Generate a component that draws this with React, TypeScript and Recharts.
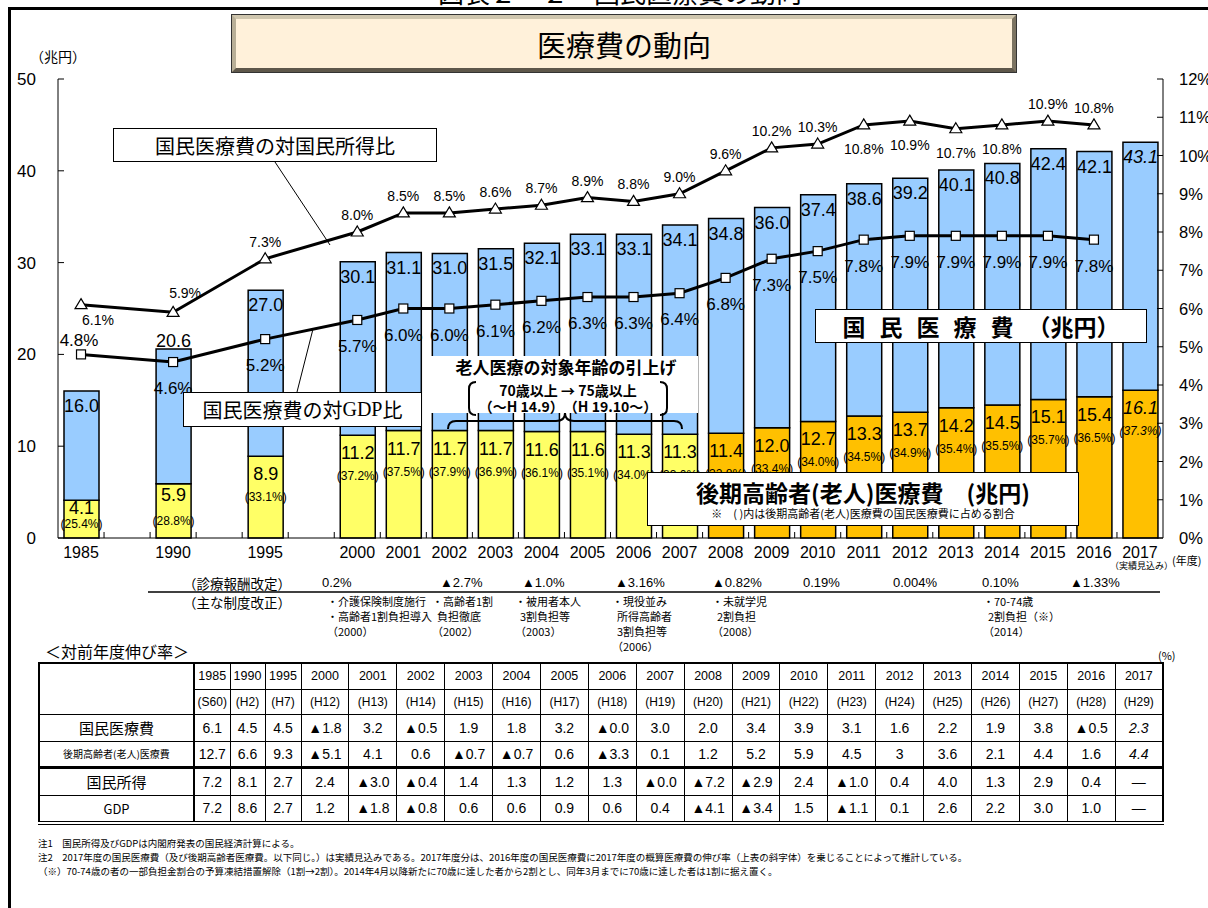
import React from "react";
import { ComposedChart, Bar, Line, XAxis, YAxis, Cell, LabelList } from "recharts";

const years = ["1985", "1990", "1995", "2000", "2001", "2002", "2003", "2004", "2005", "2006", "2007", "2008", "2009", "2010", "2011", "2012", "2013", "2014", "2015", "2016", "2017"];
const totalCost = [16.0, 20.6, 27.0, 30.1, 31.1, 31.0, 31.5, 32.1, 33.1, 33.1, 34.1, 34.8, 36.0, 37.4, 38.6, 39.2, 40.1, 40.8, 42.4, 42.1, 43.1];
const elderlyCost = [4.1, 5.9, 8.9, 11.2, 11.7, 11.7, 11.7, 11.6, 11.6, 11.3, 11.3, 11.4, 12.0, 12.7, 13.3, 13.7, 14.2, 14.5, 15.1, 15.4, 16.1];
const elderlyShare = [25.4, 28.8, 33.1, 37.2, 37.5, 37.9, 36.9, 36.1, 35.1, 34.0, 33.0, 32.8, 33.4, 34.0, 34.5, 34.9, 35.4, 35.5, 35.7, 36.5, 37.3];
const ratioIncome = [6.1, 5.9, 7.3, 8.0, 8.5, 8.5, 8.6, 8.7, 8.9, 8.8, 9.0, 9.6, 10.2, 10.3, 10.8, 10.9, 10.7, 10.8, 10.9, 10.8, null];
const ratioGdp = [4.8, 4.6, 5.2, 5.7, 6.0, 6.0, 6.1, 6.2, 6.3, 6.3, 6.4, 6.8, 7.3, 7.5, 7.8, 7.9, 7.9, 7.9, 7.9, 7.8, null];
const leftTicks = [0, 10, 20, 30, 40, 50];
const rightTicks = [0, 1, 2, 3, 4, 5, 6, 7, 8, 9, 10, 11, 12];
const gapAfter = ["1985", "1990", "1995"];

// 診療報酬改定 / 主な制度改正
const feeRevisions = ["0.2%", "▲2.7%", "▲1.0%", "▲3.16%", "▲0.82%", "0.19%", "0.004%", "0.10%", "▲1.33%"];
const feeRevisionX = [322, 440, 522, 615, 712, 803, 893, 982, 1070];
const reforms = [
  ["・介護保険制度施行", "・高齢者1割負担導入", "（2000）"],
  ["・高齢者1割", "  負担徹底", "（2002）"],
  ["・被用者本人", "  3割負担等", "（2003）"],
  ["・現役並み", "  所得高齢者", "  3割負担等", "（2006）"],
  ["・未就学児", "  2割負担", "（2008）"],
  ["・70-74歳", "  2割負担（※）", "（2014）"],
];
const reformX = [327, 432, 515, 612, 712, 983];

// 対前年度伸び率
const eras = ["(S60)", "(H2)", "(H7)", "(H12)", "(H13)", "(H14)", "(H15)", "(H16)", "(H17)", "(H18)", "(H19)", "(H20)", "(H21)", "(H22)", "(H23)", "(H24)", "(H25)", "(H26)", "(H27)", "(H28)", "(H29)"];
const growthCost = ["6.1", "4.5", "4.5", "▲1.8", "3.2", "▲0.5", "1.9", "1.8", "3.2", "▲0.0", "3.0", "2.0", "3.4", "3.9", "3.1", "1.6", "2.2", "1.9", "3.8", "▲0.5", "2.3"];
const growthElderly = ["12.7", "6.6", "9.3", "▲5.1", "4.1", "0.6", "▲0.7", "▲0.7", "0.6", "▲3.3", "0.1", "1.2", "5.2", "5.9", "4.5", "3", "3.6", "2.1", "4.4", "1.6", "4.4"];
const growthIncome = ["7.2", "8.1", "2.7", "2.4", "▲3.0", "▲0.4", "1.4", "1.3", "1.2", "1.3", "▲0.0", "▲7.2", "▲2.9", "2.4", "▲1.0", "0.4", "4.0", "1.3", "2.9", "0.4", "—"];
const growthGdp = ["7.2", "8.6", "2.7", "1.2", "▲1.8", "▲0.8", "0.6", "0.6", "0.9", "0.6", "0.4", "▲4.1", "▲3.4", "1.5", "▲1.1", "0.1", "2.6", "2.2", "3.0", "1.0", "—"];

const notes = [
  "注1　国民所得及びGDPは内閣府発表の国民経済計算による。",
  "注2　2017年度の国民医療費（及び後期高齢者医療費。以下同じ。）は実績見込みである。2017年度分は、2016年度の国民医療費に2017年度の概算医療費の伸び率（上表の斜字体）を乗じることによって推計している。",
  "（※）70-74歳の者の一部負担金割合の予算凍結措置解除（1割→2割）。2014年4月以降新たに70歳に達した者から2割とし、同年3月までに70歳に達した者は1割に据え置く。",
];

type Row = {
  slot: string;
  year: string;
  elderly?: number;
  rest?: number;
  total?: number;
  share?: number;
  income?: number | null;
  gdp?: number | null;
};

const chartData: Row[] = [];
years.forEach((y, i) => {
  chartData.push({
    slot: y,
    year: y,
    elderly: elderlyCost[i],
    rest: Math.round((totalCost[i] - elderlyCost[i]) * 10) / 10,
    total: totalCost[i],
    share: elderlyShare[i],
    income: ratioIncome[i],
    gdp: ratioGdp[i],
  });
  if (gapAfter.includes(y)) chartData.push({ slot: "gap" + y, year: "", income: null, gdp: null });
});

const CJK = "'Noto Sans CJK JP', 'Noto Sans', sans-serif";
const NUM = "'Liberation Sans Narrow', 'Arial Narrow', 'Liberation Sans', Arial, sans-serif";
const PLOT = { left: 58, right: 1163, top: 79, bottom: 538 };
const slotW = (PLOT.right - PLOT.left) / chartData.length;

const box = (p: any) => {
  const v = p.viewBox || {};
  return { x: p.x ?? v.x, y: p.y ?? v.y, w: p.width ?? v.width ?? 0, h: p.height ?? v.height ?? 0 };
};

// bar labels: find the row from the bar's centre on the category axis
const rowAt = (cx: number) => chartData[Math.round((cx - PLOT.left) / slotW - 0.5)];

function XTick(props: any) {
  const { x, y, payload } = props;
  const label = years.includes(payload.value) ? payload.value : "";
  const bx = x + slotW / 2;
  return (
    <g>
      {bx < PLOT.right - 3 && <line x1={bx} x2={bx} y1={PLOT.bottom} y2={PLOT.bottom - 6} stroke="#000" />}
      {label && (
        <text x={x} y={y + 20} textAnchor="middle" fontSize={16} fontFamily={NUM} fill="#000">
          {label}
        </text>
      )}
    </g>
  );
}

function LeftTick({ x, y, payload }: any) {
  return (
    <g>
      <line x1={PLOT.left} x2={PLOT.left + 6} y1={y} y2={y} stroke="#000" />
      <text x={x} y={y + 6} textAnchor="end" fontSize={17} fontFamily={NUM} fill="#000">
        {payload.value}
      </text>
    </g>
  );
}

function RightTick({ x, y, payload }: any) {
  return (
    <g>
      <line x1={PLOT.right} x2={PLOT.right - 6} y1={y} y2={y} stroke="#000" />
      <text x={x} y={y + 6} textAnchor="start" fontSize={16.5} fontFamily={NUM} fill="#000">
        {payload.value}%
      </text>
    </g>
  );
}

function TotalLabel(p: any) {
  const b = box(p);
  const d = rowAt(b.x + b.w / 2);
  if (!d || !d.year) return null;
  const est = d.year === "2017";
  const ty = d.year === "1990" ? b.y - 2 : b.y + 21;
  return (
    <text x={b.x + b.w / 2} y={ty} textAnchor="middle" fontSize={18} fontFamily={NUM} fontStyle={est ? "italic" : "normal"} fill="#000">
      {d.total!.toFixed(1)}
    </text>
  );
}

function ElderlyLabel(p: any) {
  const b = box(p);
  const d = rowAt(b.x + b.w / 2);
  if (!d || !d.year) return null;
  const est = d.year === "2017";
  let v = 24;
  let s = 45;
  if (d.year === "1985") {
    v = 14;
    s = 28;
  } else if (d.year === "1990") {
    v = 17;
    s = 41;
  }
  const cx = b.x + b.w / 2;
  return (
    <g fontFamily={NUM} fill="#000" fontStyle={est ? "italic" : "normal"}>
      <text x={cx} y={b.y + v} textAnchor="middle" fontSize={18}>
        {d.elderly!.toFixed(1)}
      </text>
      <text x={cx} y={b.y + s} textAnchor="middle" fontSize={12}>
        ({d.share!.toFixed(1)}%)
      </text>
    </g>
  );
}

function IncomeLabel(p: any) {
  const b = box(p);
  const d = rowAt(b.x);
  if (!d || d.income == null) return null;
  let dx = 0;
  let dy = -12;
  if (d.year === "1985") {
    dx = 17;
    dy = 20;
  } else if (d.year === "1990") {
    dx = 12;
    dy = -14;
  } else if (["2011", "2012", "2013", "2014"].includes(d.year)) {
    dy = 29;
  }
  return (
    <text x={b.x + dx} y={b.y + dy} textAnchor="middle" fontSize={14} fontFamily={NUM} fill="#000">
      {d.income.toFixed(1)}%
    </text>
  );
}

function GdpLabel(p: any) {
  const b = box(p);
  const d = rowAt(b.x);
  if (!d || d.gdp == null) return null;
  const above = d.year === "1985";
  return (
    <text x={b.x + (above ? -2 : 0)} y={b.y + (above ? -8 : 32)} textAnchor="middle" fontSize={17} fontFamily={NUM} fill="#000">
      {d.gdp.toFixed(1)}%
    </text>
  );
}

function TriangleDot(p: any) {
  const { cx, cy, payload } = p;
  if (cx == null || cy == null || !payload || payload.income == null) return null;
  return <path d={`M${cx},${cy - 6} L${cx + 6},${cy + 4} L${cx - 6},${cy + 4} Z`} fill="#fff" stroke="#000" strokeWidth={1.2} />;
}

function SquareDot(p: any) {
  const { cx, cy, payload } = p;
  if (cx == null || cy == null || !payload || payload.gdp == null) return null;
  return <rect x={cx - 4.5} y={cy - 4.5} width={9} height={9} fill="#fff" stroke="#000" strokeWidth={1.2} />;
}

const abs = (l: number, t: number, extra: React.CSSProperties = {}): React.CSSProperties => ({
  position: "absolute",
  left: l,
  top: t,
  ...extra,
});

function Callout({ l, t, w, h, children, style }: any) {
  return (
    <div
      style={abs(l, t, {
        width: w,
        height: h,
        boxSizing: "border-box",
        border: "1.5px solid #000",
        background: "#fff",
        display: "flex",
        alignItems: "center",
        justifyContent: "center",
        fontFamily: CJK,
        whiteSpace: "nowrap",
        ...style,
      })}
    >
      {children}
    </div>
  );
}

const colW = [155, 36, 35, 36, ...Array(18).fill(47.9)];

function GrowthTable() {
  const cell: React.CSSProperties = {
    border: "1px solid #000",
    padding: 0,
    textAlign: "center",
    fontFamily: NUM,
    fontSize: 14,
  };
  const rows = [
    { label: "国民医療費", size: 15, vals: growthCost, h: 27, top: false },
    { label: "後期高齢者(老人)医療費", size: 10, vals: growthElderly, h: 26, top: false },
    { label: "国民所得", size: 15, vals: growthIncome, h: 28, top: true },
    { label: "GDP", size: 13, vals: growthGdp, h: 28, top: false },
  ];
  return (
    <table
      style={abs(38, 662, {
        width: 1125,
        borderCollapse: "collapse",
        tableLayout: "fixed",
        border: "2px solid #000",
      })}
    >
      <colgroup>
        {colW.map((w, i) => (
          <col key={i} style={{ width: w }} />
        ))}
      </colgroup>
      <tbody>
        <tr style={{ height: 26 }}>
          <td rowSpan={2} style={{ ...cell, borderRight: "2px solid #000" }} />
          {years.map((y) => (
            <td key={y} style={{ ...cell, fontSize: 12.5 }}>
              {y}
            </td>
          ))}
        </tr>
        <tr style={{ height: 25 }}>
          {eras.map((e) => (
            <td key={e} style={{ ...cell, fontSize: 12 }}>
              {e}
            </td>
          ))}
        </tr>
        {rows.map((r, ri) => (
          <tr key={r.label} style={{ height: r.h }}>
            <td
              style={{
                ...cell,
                fontFamily: CJK,
                fontSize: r.size,
                borderRight: "2px solid #000",
                borderTop: r.top ? "3px solid #000" : cell.border,
                borderBottom: ri === rows.length - 1 ? "4px double #000" : cell.border,
              }}
            >
              {r.label}
            </td>
            {r.vals.map((v, i) => (
              <td
                key={i}
                style={{
                  ...cell,
                  fontStyle: i === years.length - 1 && ri < 2 ? "italic" : "normal",
                  borderTop: r.top ? "3px solid #000" : cell.border,
                  borderBottom: ri === rows.length - 1 ? "4px double #000" : cell.border,
                }}
              >
                {v}
              </td>
            ))}
          </tr>
        ))}
      </tbody>
    </table>
  );
}

export default function App() {
  return (
    <div style={{ position: "absolute", left: 0, top: 0, width: 1208, height: 908, overflow: "hidden", background: "#fff", fontFamily: CJK, color: "#000" }}>
      {/* page caption, cut off at the top */}
      <div style={abs(0, -22, { width: 1240, textAlign: "center", fontSize: 26, lineHeight: "28px", fontFamily: CJK })}>図表２－２　国民医療費の動向</div>
      {/* frame */}
      <div style={abs(8, 7, { width: 1300, height: 1000, border: "3px solid #000", boxSizing: "border-box" })} />

      <div style={abs(0, 0)}>
        <ComposedChart width={1208} height={600} data={chartData} margin={{ top: 79, right: 0, bottom: 32, left: 0 }}>
          <XAxis dataKey="slot" interval={0} tickSize={0} tickMargin={0} height={30} tick={<XTick />} axisLine={{ stroke: "#000" }} />
          <YAxis yAxisId="l" domain={[0, 50]} ticks={leftTicks} width={58} tickSize={0} tickMargin={22} tick={<LeftTick />} axisLine={{ stroke: "#000" }} />
          <YAxis yAxisId="r" orientation="right" domain={[0, 12]} ticks={rightTicks} width={45} tickSize={0} tickMargin={16} tick={<RightTick />} axisLine={{ stroke: "#000" }} />
          <Bar yAxisId="l" dataKey="elderly" stackId="a" barSize={35} stroke="#000" strokeWidth={1.5} isAnimationActive={false}>
            {chartData.map((d, i) => (
              <Cell key={i} fill={Number(d.year) >= 2008 ? "#FFC000" : "#FFFF66"} />
            ))}
            <LabelList content={<ElderlyLabel />} />
          </Bar>
          <Bar yAxisId="l" dataKey="rest" stackId="a" barSize={35} fill="#99CCFF" stroke="#000" strokeWidth={1.5} isAnimationActive={false}>
            <LabelList content={<TotalLabel />} />
          </Bar>
          <Line yAxisId="r" dataKey="income" stroke="#000" strokeWidth={3} connectNulls dot={<TriangleDot />} activeDot={false} isAnimationActive={false}>
            <LabelList content={<IncomeLabel />} />
          </Line>
          <Line yAxisId="r" dataKey="gdp" stroke="#000" strokeWidth={3} connectNulls dot={<SquareDot />} activeDot={false} isAnimationActive={false}>
            <LabelList content={<GdpLabel />} />
          </Line>
        </ComposedChart>
      </div>

      {/* title */}
      <div
        style={abs(232, 15, {
          width: 784,
          height: 57,
          boxSizing: "border-box",
          background: "#FFF1DA",
          borderStyle: "solid",
          borderWidth: 4,
          borderColor: "#CFC6AE #7C7462 #5E574A #B8AF97",
          outline: "1px solid #333",
          display: "flex",
          alignItems: "center",
          justifyContent: "center",
          fontSize: 29,
        })}
      >
        医療費の動向
      </div>
      <div style={abs(30, 47, { fontSize: 14, lineHeight: "18px" })}>（兆円）</div>

      {/* callouts */}
      <Callout l={113} t={128} w={324} h={34} style={{ fontSize: 20 }}>
        国民医療費の対国民所得比
      </Callout>
      <Callout l={183} t={392} w={239} h={35} style={{ fontSize: 20 }}>
        国民医療費の対<span style={{ fontFamily: "'Liberation Serif', serif" }}>GDP</span>比
      </Callout>
      <Callout l={815} t={309} w={332} h={34} style={{ fontSize: 23, fontWeight: 700 }}>
        <span style={{ letterSpacing: 14 }}>国民医療費</span>
        <span>（兆円）</span>
      </Callout>
      <Callout l={647} t={472} w={432} h={54} style={{ flexDirection: "column" }}>
        <div style={{ fontSize: 23, fontWeight: 700, lineHeight: "28px" }}>後期高齢者(老人)医療費　(兆円)</div>
        <div style={{ fontSize: 11, lineHeight: "14px" }}>※　( )内は後期高齢者(老人)医療費の国民医療費に占める割合</div>
      </Callout>

      {/* 老人医療の対象年齢の引上げ */}
      <div style={abs(428, 356, { width: 270, height: 57, background: "#fff" })} />
      <div style={abs(428, 357, { width: 276, textAlign: "center", fontSize: 17, fontWeight: 700, lineHeight: "20px" })}>老人医療の対象年齢の引上げ</div>
      <div style={abs(470, 382, { width: 196, textAlign: "center", fontSize: 14, fontWeight: 700, lineHeight: "16px", whiteSpace: "nowrap" })}>
        70歳以上 → 75歳以上
        <br />
        （～H 14.9）　（H 19.10～）
      </div>

      <svg width={1208} height={908} style={abs(0, 0, { pointerEvents: "none" })}>
        <line x1={275} y1={162} x2={330} y2={245} stroke="#000" strokeWidth={1} />
        <line x1={297} y1={392} x2={313} y2={329} stroke="#000" strokeWidth={1} />
        <path d="M476,382 Q469,382 469,389 L469,408 Q469,415 476,415" fill="none" stroke="#000" strokeWidth={2} />
        <path d="M660,382 Q667,382 667,389 L667,408 Q667,415 660,415" fill="none" stroke="#000" strokeWidth={2} />
        <path d="M448,429 Q448,421 456,421 L556,421 Q565,421 565,413 Q565,421 574,421 L674,421 Q682,421 682,429" fill="none" stroke="#000" strokeWidth={2} />
        <line x1={148} y1={592} x2={1160} y2={592} stroke="#000" strokeWidth={1.5} />
      </svg>

      {/* axis side notes */}
      <div style={abs(1110, 560, { fontSize: 9, lineHeight: "12px", whiteSpace: "nowrap" })}>（実績見込み）</div>
      <div style={abs(1172, 553, { fontSize: 11, lineHeight: "14px", whiteSpace: "nowrap" })}>(年度)</div>

      {/* revisions */}
      <div style={abs(183, 574, { fontSize: 13.5, lineHeight: "18px", whiteSpace: "nowrap" })}>（診療報酬改定）</div>
      <div style={abs(183, 593, { fontSize: 13.5, lineHeight: "18px", whiteSpace: "nowrap" })}>（主な制度改正）</div>
      {feeRevisions.map((f, i) => (
        <div key={f} style={abs(feeRevisionX[i], 575, { fontSize: 13, lineHeight: "16px", fontFamily: NUM, whiteSpace: "nowrap" })}>
          {f}
        </div>
      ))}
      {reforms.map((lines, i) => (
        <div key={i} style={abs(reformX[i], 594, { fontSize: 11, lineHeight: "15px", whiteSpace: "pre" })}>
          {lines.join("\n")}
        </div>
      ))}

      <div style={abs(45, 641, { fontSize: 16, lineHeight: "20px", whiteSpace: "nowrap" })}>＜対前年度伸び率＞</div>
      <div style={abs(1158, 648, { fontSize: 11, lineHeight: "14px" })}>(%)</div>

      <GrowthTable />

      <div style={abs(38, 836, { fontSize: 9.5, lineHeight: "14px", whiteSpace: "nowrap" })}>
        {notes.map((n) => (
          <div key={n}>{n}</div>
        ))}
      </div>
    </div>
  );
}
